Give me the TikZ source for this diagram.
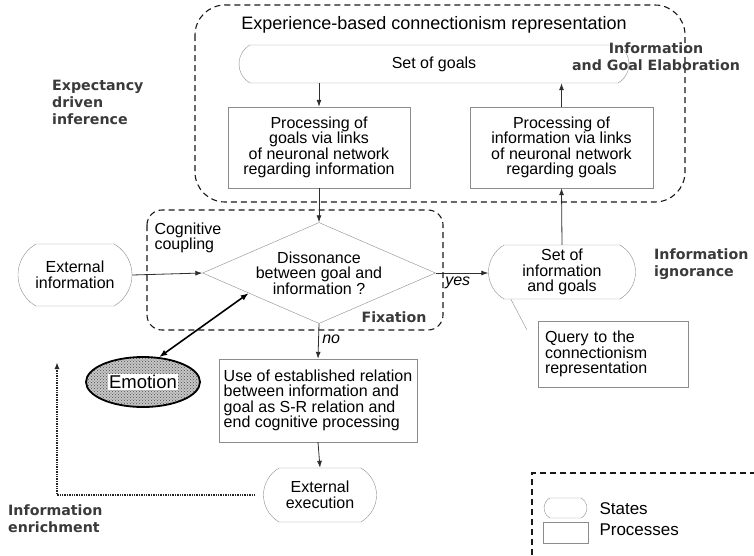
\documentclass[tikz,border=0pt]{standalone}
\usepackage{fontspec}
\setmainfont{Liberation Sans}
\newfontfamily\labfont{DejaVu Sans}
\usepackage{tikz}
\usetikzlibrary{shapes, arrows, arrows.meta}
\usetikzlibrary{shapes.misc, shapes.geometric, patterns}
\usetikzlibrary{positioning}

\definecolor{boxline}{HTML}{8C8C8C}
\definecolor{arrowline}{HTML}{2E2E2E}
\definecolor{labgray}{HTML}{3A3A3A}

\begin{document}
\begin{tikzpicture}[
        x=1pt, y=-1pt,
        every node/.style={font=\fontsize{16}{15.5}\selectfont},
        state/.style={draw=boxline, rounded rectangle, rounded rectangle arc length=120, align=center, inner sep=1pt},
        process/.style={draw=boxline, rectangle, align=center, inner sep=2pt},
        decision/.style={draw=boxline, diamond, aspect=2.3, align=center, inner sep=-7pt, minimum width=233, minimum height=101},
        region/.style={dash pattern=on 6pt off 4pt, line width=1.1pt, draw=black!90},
        boldlab/.style={font=\labfont\bfseries\fontsize{14.2}{17}\selectfont, text=labgray, inner sep=0pt},
        arrow/.style={-{Latex[length=7pt, width=5pt]}, line width=0.8pt, draw=arrowline},
        dblarrow/.style={{Latex[length=8pt, width=6pt]}-{Latex[length=8pt, width=6pt]}, line width=1.6pt, draw=black},
        dotarrow/.style={-{Latex[length=7pt, width=5pt]}, densely dotted, line width=1.4pt, draw=black!85}
    ]
    \useasboundingbox (0,0) rectangle (754,555);

    % Regions
    \draw[region, rounded corners=30] (195,5) rectangle (685,202);
    \node[font=\fontsize{18}{20}\selectfont] (exptitle) at (434,25) {Experience-based connectionism representation};
    \draw[region, rounded corners=15] (147,210) rectangle (443,330);

    % Nodes
    \node[state, minimum width=392, minimum height=38] (goals) at (434,64) {Set of goals};
    \node[process, minimum width=182, minimum height=81] (procgoals) at (319,147.5) {Processing of\\goals via links\\of neuronal network\\regarding information};
    \node[process, minimum width=183, minimum height=81] (procinfo) at (561.5,147.5) {Processing of\\information via links\\of neuronal network\\regarding goals};
    \node[decision] (diss) at (319,273) {Dissonance\\between goal and\\information ?};
    \node[state, minimum width=116, minimum height=62] (extinfo) at (75,275) {External\\information};
    \node[state, minimum width=149, minimum height=54] (setinfo) at (562,272) {Set of\\information\\and goals};
    \node[process, align=left, minimum width=150, minimum height=66, text width=136] (query) at (613,354) {Query to the\\connectionism\\representation};
    \node[ellipse, draw=black, line width=1.8pt, minimum width=114, minimum height=50,
          preaction={fill=gray!45}, pattern=crosshatch dots, pattern color=black!70,
          label={[fill=white, inner sep=1pt, font=\fontsize{18.5}{20}\selectfont]center:Emotion}] (emo) at (143,382) {};
    \node[process, align=left, minimum width=198, minimum height=83] (use) at (318,400.5) {Use of established relation\\between information and\\goal as S-R relation and\\end cognitive processing};
    \node[state, minimum width=115, minimum height=54] (extexec) at (320,495) {External\\execution};
    \coordinate (qtip) at (527,330);
    \coordinate (enrichtip) at (57,362);

    % Labels
    \node[anchor=north west, align=left] (coupling) at (151,219) {Cognitive\\coupling};
    \node[boldlab] (fixation) at (394,317) {Fixation};
    \node[boldlab, anchor=north west, align=left] (expect) at (52,80) {Expectancy\\driven\\inference};
    \node[boldlab, align=center] (elab) at (656,57) {Information\\and Goal Elaboration};
    \node[boldlab, anchor=west, align=left] (ignor) at (654,264) {Information\\ignorance};
    \node[boldlab, anchor=west, align=left] (enrich) at (8,519) {Information\\enrichment};

    % Arrows
    \draw[arrow] (goals.south -| procgoals.north) -- (procgoals.north);
    \draw[arrow] (procinfo.north) -- (procinfo.north |- goals.south);
    \draw[arrow] (procgoals.south) -- (diss.north);
    \draw[arrow] (extinfo.east) -- (diss.west);
    \draw[arrow] (diss.east) -- node[below, pos=0.42, font=\itshape\fontsize{16}{16}\selectfont] {yes} (diss.east -| setinfo.west);
    \draw[arrow] (setinfo.north) -- (procinfo.south);
    \draw[boxline] (setinfo.208) -- (qtip);
    \draw[dblarrow] (emo.57) -- (diss.196);
    \draw[arrow] (diss.south) -- node[right, pos=0.45, font=\itshape\fontsize{16}{16}\selectfont] {no} (use.north);
    \draw[arrow] (use.south) -- (extexec.north);
    \draw[dotarrow, shorten <=8pt] (extexec.west) -| (enrichtip);

    % Legend
    \draw[region] (532,555) -- (532,473) -- (754,473);
    \node[state, minimum width=45, minimum height=20] (legstate) at (565.5,508) {};
    \node[process, minimum width=45, minimum height=21] (legproc) at (565.5,532.5) {};
    \node[anchor=west, font=\fontsize{17}{18}\selectfont] (legstatetxt) at (596,509) {States};
    \node[anchor=west, font=\fontsize{17}{18}\selectfont] (legproctxt) at (596,530) {Processes};
\end{tikzpicture}
\end{document}
